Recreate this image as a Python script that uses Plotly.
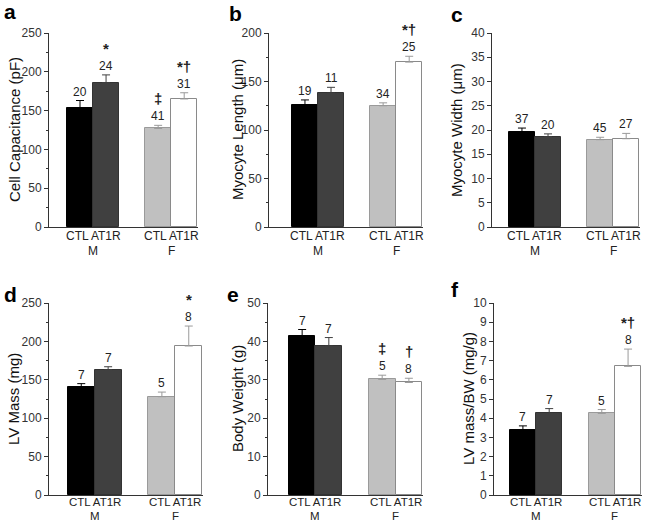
import plotly.graph_objects as go
from plotly.subplots import make_subplots

# bar order: CTL M, AT1R M, CTL F, AT1R F
bar_x = [0, 1, 3, 4]
group_x = [0.5, 3.5]
group_labels = ["CTL AT1R", "CTL AT1R"]
sexes = ["M", "F"]

fills = ["#000000", "#404040", "#c0c0c0", "#ffffff"]
outlines = ["#000000", "#333333", "#9a9a9a", "#8a8a8a"]
err_colors = ["#000000", "#404040", "#9a9a9a", "#9a9a9a"]

cap_mean = [154, 186, 127, 165]
cap_sem = [9, 10, 4, 8]
cap_n = ["20", "24", "41", "31"]
cap_sig = ["", "*", "‡", "*†"]

len_mean = [126, 138, 125, 170]
len_sem = [5, 6, 3, 6]
len_n = ["19", "11", "34", "25"]
len_sig = ["", "", "", "*†"]

wid_mean = [19.6, 18.6, 18.0, 18.2]
wid_sem = [0.8, 0.6, 0.5, 1.1]
wid_n = ["37", "20", "45", "27"]
wid_sig = ["", "", "", ""]

lvm_mean = [140, 163, 128, 194]
lvm_sem = [5, 4, 6, 26]
lvm_n = ["7", "7", "5", "8"]
lvm_sig = ["", "", "", "*"]

bw_mean = [41.5, 38.8, 30.1, 29.3]
bw_sem = [1.6, 2.2, 1.1, 1.1]
bw_n = ["7", "7", "5", "8"]
bw_sig = ["", "", "‡", "†"]

ratio_mean = [3.4, 4.25, 4.25, 6.7]
ratio_sem = [0.2, 0.25, 0.2, 0.9]
ratio_n = ["7", "7", "5", "8"]
ratio_sig = ["", "", "", "*†"]

W, H = 660, 523
FONT = "Liberation Sans, Arial, sans-serif"


def px_x(p):
    return p / W


def px_y(p):
    return 1 - p / H


fig = make_subplots(rows=2, cols=3)


def add_panel(k, row, col, mean, sem, n, sig, title, ymax, dtick, minor,
              xpix, ypix, xmin, letter, letter_pos, title_x, under):
    sfx = str(k) if k > 1 else ""
    xr, yr = "x" + sfx, "y" + sfx
    for i in range(4):
        fig.add_trace(go.Bar(
            x=[bar_x[i]], y=[mean[i]], width=1,
            marker=dict(color=fills[i], line=dict(color=outlines[i], width=1)),
            error_y=dict(type="data", symmetric=False, array=[sem[i]], arrayminus=[0],
                         color=err_colors[i], thickness=1, width=4),
            showlegend=False, hoverinfo="skip",
        ), row=row, col=col)
        top = mean[i] + sem[i]
        fig.add_annotation(x=bar_x[i], y=top, xref=xr, yref=yr, text=n[i], showarrow=False,
                           yanchor="bottom", yshift=0, font=dict(size=12, color="#222", family=FONT))
        if sig[i]:
            fig.add_annotation(x=bar_x[i], y=top, xref=xr, yref=yr, text=f"<b>{sig[i]}</b>",
                               showarrow=False, yanchor="bottom", yshift=16,
                               font=dict(size=15, color="#222", family=FONT))
    # group labels under the x axis: "CTL AT1R", a short rule, then the sex
    for gx, g, s in zip(group_x, group_labels, sexes):
        fig.add_annotation(x=gx, y=0, xref=xr, yref=yr, text=g, showarrow=False, borderpad=0,
                           yanchor="middle", yshift=-under[0], font=dict(size=under[3], color="#222", family=FONT))
        fig.add_shape(type="line", xref=xr, yref=yr, ysizemode="pixel", yanchor=0,
                      x0=gx - 0.95, x1=gx + 1.05, y0=-under[1], y1=-under[1],
                      line=dict(color="#555", width=1))
        fig.add_annotation(x=gx, y=0, xref=xr, yref=yr, text=s, showarrow=False, borderpad=0,
                           yanchor="middle", yshift=-under[2], font=dict(size=under[3], color="#222", family=FONT))
    fig.add_annotation(x=px_x(title_x), y=px_y((ypix[0] + ypix[1]) / 2), xref="paper", yref="paper",
                       text=title, textangle=-90, showarrow=False, xanchor="center", yanchor="middle",
                       font=dict(size=15, color="#111", family=FONT))
    fig.add_annotation(x=px_x(letter_pos[0]), y=px_y(letter_pos[1]), xref="paper", yref="paper",
                       text=f"<b>{letter}</b>", showarrow=False, xanchor="left", yanchor="middle",
                       font=dict(size=21, color="#000", family=FONT))
    xa = dict(domain=[px_x(xpix[0]), px_x(xpix[1])], range=[xmin, 4.53],
              showline=True, linecolor="#333", linewidth=1, ticks="", showticklabels=False,
              showgrid=False, zeroline=False, automargin=False)
    ya = dict(domain=[px_y(ypix[1]), px_y(ypix[0])], range=[0, ymax], dtick=dtick,
              showline=True, linecolor="#333", linewidth=1,
              ticks="outside", ticklen=4, tickcolor="#333", showgrid=False, zeroline=False,
              tickfont=dict(size=12, color="#333", family=FONT), automargin=False)
    if minor:
        ya["minor"] = dict(ticks="outside", ticklen=2, tickcolor="#333", dtick=minor)
    fig.update_layout(**{f"xaxis{sfx}": xa, f"yaxis{sfx}": ya})


row1 = (33, 227)
row2 = (303, 495)
under1 = (9, 16, 24, 12)
under2 = (7, 14, 21, 11.5)
add_panel(1, 1, 1, cap_mean, cap_sem, cap_n, cap_sig, "Cell Capacitance (pF)", 250, 50, 25,
          (49, 198), row1, -1.19, "a", (2, 11), 14, under1)
add_panel(2, 1, 2, len_mean, len_sem, len_n, len_sig, "Myocyte Length (μm)", 200, 50, 25,
          (269, 423), row1, -1.38, "b", (227, 13), 237, under1)
add_panel(3, 1, 3, wid_mean, wid_sem, wid_n, wid_sig, "Myocyte Width (μm)", 40, 5, None,
          (492, 640), row1, -1.15, "c", (449, 15), 456, under1)
add_panel(4, 2, 1, lvm_mean, lvm_sem, lvm_n, lvm_sig, "LV Mass (mg)", 250, 50, 25,
          (49, 203), row2, -1.2, "d", (2, 294), 13, under2)
add_panel(5, 2, 2, bw_mean, bw_sem, bw_n, bw_sig, "Body Weight (g)", 50, 10, 5,
          (268, 423), row2, -1.28, "e", (225, 294), 237, under2)
add_panel(6, 2, 3, ratio_mean, ratio_sem, ratio_n, ratio_sig, "LV mass/BW (mg/g)", 10, 1, None,
          (494, 642), row2, -1.1, "f", (449, 289), 468, under2)

fig.update_layout(
    width=W, height=H,
    margin=dict(l=0, r=0, t=0, b=0),
    paper_bgcolor="white", plot_bgcolor="white",
    bargap=0, barmode="overlay",
    font=dict(family=FONT),
)

# drop the browser's default 8px body margin so the figure sits at the window corner
fig.write_html("out.html", config={"displayModeBar": False},
               post_script="document.body.style.margin='0';document.body.style.overflow='hidden';")
